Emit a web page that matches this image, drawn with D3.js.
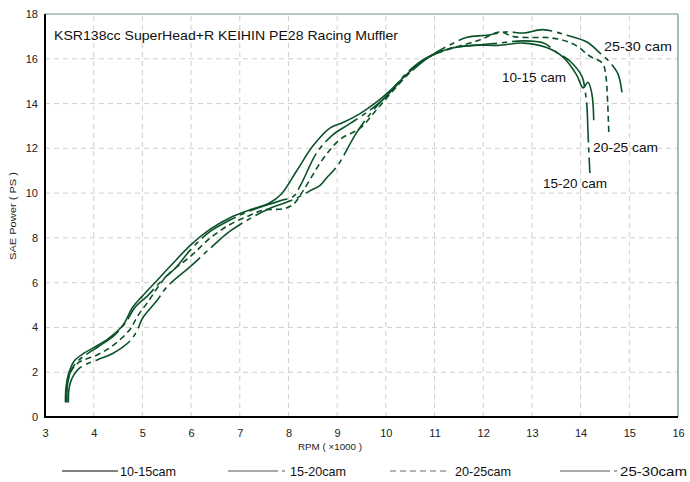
<!DOCTYPE html>
<html><head><meta charset="utf-8">
<script src="https://cdn.jsdelivr.net/npm/d3@7/dist/d3.min.js"></script>
<style>
html,body{margin:0;padding:0;background:#fff;}
svg{display:block;font-family:"Liberation Sans",Arial,sans-serif;}
</style></head>
<body><svg id="c" width="690" height="482"></svg>
<script>
const title = "KSR138cc SuperHead+R KEIHIN PE28 Racing Muffler";
const xTicks = [3,4,5,6,7,8,9,10,11,12,13,14,15,16];
const yTicks = [0,2,4,6,8,10,12,14,16,18];
const seriesNames = ["10-15cam","15-20cam","20-25cam","25-30cam"];
const curveLabels = ["10-15 cam","15-20 cam","20-25 cam","25-30 cam"];

const s1015 = [[3.42,0.65],[3.43,1.3],[3.48,1.9],[3.6,2.5],[3.8,2.85],[4.0,3.1],[4.3,3.5],[4.6,4.1],[4.8,4.9],[5.0,5.4],[5.3,6.1],[5.6,6.8],[6.0,7.7],[6.4,8.4],[6.8,8.9],[7.2,9.25],[7.6,9.55],[7.85,9.95],[8.17,11.0],[8.5,12.1],[8.85,12.9],[9.12,13.15],[9.47,13.55],[9.8,14.05],[10.1,14.6],[10.5,15.45],[10.9,16.1],[11.3,16.45],[11.8,16.6],[12.3,16.6],[12.83,16.7],[13.3,16.5],[13.64,16.07],[13.92,15.27],[14.05,14.7],[14.15,14.95],[14.23,14.45],[14.27,13.25]];
const s1520 = [[3.45,0.65],[3.46,1.4],[3.52,2.0],[3.65,2.45],[3.85,2.8],[4.1,3.15],[4.4,3.6],[4.65,4.2],[4.85,4.9],[5.1,5.4],[5.4,6.1],[5.7,6.7],[6.0,7.5],[6.4,8.3],[6.8,8.8],[7.2,9.2],[7.6,9.5],[7.9,9.7],[8.1,9.85],[8.26,10.4],[8.58,11.8],[8.91,12.6],[9.26,13.1],[9.67,13.7],[10.0,14.3],[10.4,15.3],[10.8,16.0],[11.3,16.45],[11.8,16.6],[12.3,16.7],[12.83,16.8],[13.24,16.7],[13.5,16.3],[13.78,15.9],[14.03,15.2],[14.09,14.6],[14.13,13.85],[14.15,12.8],[14.19,10.9]];
const s2025 = [[3.44,0.7],[3.46,1.5],[3.55,2.1],[3.7,2.45],[4.07,2.77],[4.4,3.2],[4.74,3.9],[4.9,4.5],[5.1,5.1],[5.5,6.3],[6.0,7.2],[6.4,8.0],[6.8,8.6],[7.2,9.0],[7.5,9.25],[7.9,9.3],[8.1,9.5],[8.3,10.1],[8.7,11.5],[9.06,12.4],[9.47,12.9],[9.8,13.7],[10.1,14.45],[10.5,15.4],[10.9,16.1],[11.4,16.5],[11.8,16.75],[12.0,16.9],[12.34,17.2],[12.6,17.0],[13.0,16.95],[13.3,16.95],[13.6,16.85],[13.9,16.6],[14.2,16.1],[14.45,15.8],[14.52,15.2],[14.55,14.3],[14.58,12.6]];
const s2530 = [[3.48,0.65],[3.49,1.2],[3.55,1.7],[3.72,2.2],[4.07,2.55],[4.4,2.85],[4.75,3.4],[4.9,3.9],[5.0,4.4],[5.3,5.2],[5.5,5.8],[6.0,6.75],[6.4,7.55],[6.8,8.3],[7.2,8.85],[7.6,9.3],[8.09,9.7],[8.44,10.1],[8.65,10.35],[8.79,10.7],[9.0,11.2],[9.4,12.7],[9.74,13.7],[10.08,14.5],[10.5,15.4],[10.9,16.1],[11.3,16.6],[11.67,16.96],[12.07,17.05],[12.49,17.2],[12.83,17.15],[13.22,17.3],[13.72,17.05],[14.13,16.75],[14.4,16.25],[14.6,15.85],[14.75,15.4],[14.8,15.1],[14.85,14.5]];
const seriesData = [s1015, s1520, s2025, s2530];

const svg = d3.select("#c");
const x = d3.scaleLinear().domain([3,16]).range([45,678]);
const y = d3.scaleLinear().domain([0,18]).range([417,14]);
const lineColor = "#0b5229";
const dashes = [null, "40,5,5,5", "6,4", "40,5,5,5"];

// grid
const g = svg.append("g");
g.selectAll(".vg").data(xTicks.filter(v=>v>3 && v<16)).enter().append("line")
  .attr("x1",d=>x(d)).attr("x2",d=>x(d)).attr("y1",y(0)).attr("y2",y(18))
  .attr("stroke","#cfcfcf").attr("stroke-width",1).attr("stroke-dasharray","5,4");
g.selectAll(".hg").data(yTicks.filter(v=>v>0 && v<18)).enter().append("line")
  .attr("x1",x(3)).attr("x2",x(16)).attr("y1",d=>y(d)).attr("y2",d=>y(d))
  .attr("stroke","#cfcfcf").attr("stroke-width",1).attr("stroke-dasharray","5,4");

// frame
svg.append("line").attr("x1",x(3)).attr("x2",x(16)).attr("y1",y(18)).attr("y2",y(18)).attr("stroke","#6a9477").attr("stroke-width",1.2);
svg.append("line").attr("x1",x(16)).attr("x2",x(16)).attr("y1",y(18)).attr("y2",y(0)).attr("stroke","#6a9477").attr("stroke-width",1.2);

// lines
const line = d3.line().x(d=>x(d[0])).y(d=>y(d[1])).curve(d3.curveCatmullRom.alpha(0.5));
seriesData.forEach((s,i)=>{
  svg.append("path").attr("d",line(s)).attr("fill","none")
    .attr("stroke",lineColor).attr("stroke-width",1.6)
    .attr("stroke-dasharray",dashes[i]);
});

// axes
svg.append("line").attr("x1",x(3)).attr("x2",x(3)).attr("y1",y(18)).attr("y2",y(0)+1).attr("stroke","#000").attr("stroke-width",2);
svg.append("line").attr("x1",x(3)-1).attr("x2",x(16)).attr("y1",y(0)).attr("y2",y(0)).attr("stroke","#000").attr("stroke-width",2);

const ax = svg.append("g").attr("transform",`translate(0,${y(0)})`)
  .call(d3.axisBottom(x).tickValues(xTicks).tickSize(0).tickPadding(12).tickFormat(d3.format("d")));
ax.select(".domain").remove();
ax.selectAll("text").attr("font-size",11).attr("fill","#222").attr("font-family","Liberation Sans, Arial, sans-serif");

const ay = svg.append("g").attr("transform",`translate(${x(3)},0)`)
  .call(d3.axisLeft(y).tickValues(yTicks).tickSize(0).tickPadding(7).tickFormat(d3.format("d")));
ay.select(".domain").remove();
ay.selectAll("text").attr("font-size",11).attr("fill","#222").attr("font-family","Liberation Sans, Arial, sans-serif");

// title
svg.append("text").attr("x",54).attr("y",40).attr("font-size",13.5).attr("fill","#111")
  .attr("textLength",344).attr("lengthAdjust","spacingAndGlyphs").text(title);

// axis titles
svg.append("text").attr("transform",`translate(16,216) rotate(-90)`).attr("text-anchor","middle")
  .attr("font-size",9.5).attr("fill","#222").attr("textLength",88).attr("lengthAdjust","spacingAndGlyphs")
  .text("SAE Power ( PS )");
svg.append("text").attr("x",330).attr("y",450).attr("text-anchor","middle")
  .attr("font-size",9.5).attr("fill","#222").attr("textLength",64).attr("lengthAdjust","spacingAndGlyphs")
  .text("RPM ( ×1000 )");

// curve labels
const labelPos = [[502,82,64],[543,188,64],[593,152,65],[604,51,68]];
curveLabels.forEach((t,i)=>{
  svg.append("text").attr("x",labelPos[i][0]).attr("y",labelPos[i][1]).attr("font-size",13)
    .attr("fill","#111").attr("textLength",labelPos[i][2]).attr("lengthAdjust","spacingAndGlyphs").text(t);
});

// legend
const legX = [[62,118,120],[228,285,290],[390,450,455],[560,617,620]];
const legColors = ["#000","#555","#666","#555"];
const legDash = [null,"50,4,5,4","6,4","50,4,5,4"];
seriesNames.forEach((n,i)=>{
  svg.append("line").attr("x1",legX[i][0]).attr("x2",legX[i][1]).attr("y1",471).attr("y2",471)
    .attr("stroke",legColors[i]).attr("stroke-width",1).attr("stroke-dasharray",legDash[i]);
  svg.append("text").attr("x",legX[i][2]).attr("y",476).attr("font-size",13).attr("fill","#111")
    .attr("textLength",i===3?67:56).attr("lengthAdjust","spacingAndGlyphs").text(n);
});
</script></body></html>
